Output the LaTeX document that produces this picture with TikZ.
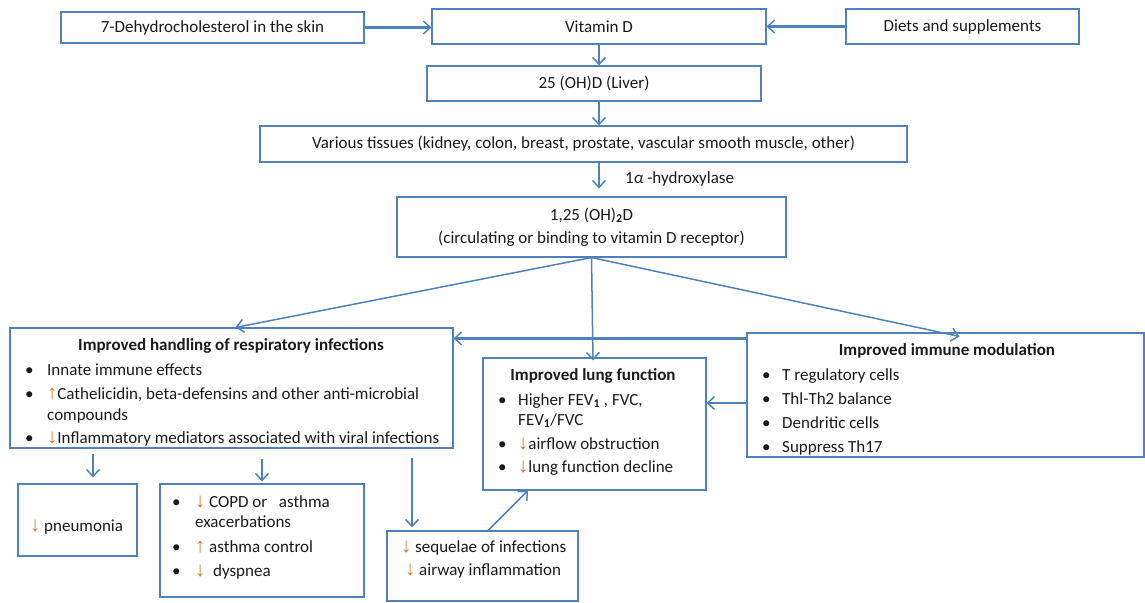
\documentclass[tikz,border=0pt]{standalone}
\usepackage{fontspec}
\setmainfont{Carlito}
\newfontfamily\arrfont[Scale=1.2]{Liberation Sans}
\usetikzlibrary{arrows.meta}
\definecolor{bl}{HTML}{4F81BD}
\definecolor{orr}{HTML}{D9752B}
\definecolor{txt}{HTML}{1A1A1A}
\newcommand\dnar{{\arrfont\color{orr}↓}}
\newcommand\upar{{\arrfont\color{orr}↑}}
\newcommand\bul[1]{\makebox[#1pt][l]{•}}
\begin{document}
\begin{tikzpicture}[x=1pt,y=-1pt,
  font=\fontsize{17}{20}\selectfont, text=txt,
  box/.style={draw=bl, line width=1.1pt, inner sep=0pt},
  lbl/.style={inner sep=0pt, anchor=mid west, yshift=-3pt},
  ctr/.style={inner sep=0pt, anchor=mid, yshift=-3pt},
  ttl/.style={ctr, font=\fontsize{17}{20}\selectfont\bfseries},
  arr/.style={draw=bl, line width=1.5pt, -{Straight Barb[length=7pt,width=13pt,line width=1.5pt]}},
  arrt/.style={arr, line width=2.1pt}]
\useasboundingbox (0,0) rectangle (1145,602);
% boxes
\node[box, minimum width=303pt, minimum height=31pt] (skin) at (212.5,27.5) {7-Dehydrocholesterol in the skin};
\node[box, minimum width=334pt, minimum height=35pt] (vitd) at (599,26.5) {Vitamin D};
\node[box, minimum width=233pt, minimum height=35pt] (diet) at (962.5,26.5) {Diets and supplements};
\node[box, minimum width=334pt, minimum height=35pt] (liver) at (594,83.5) {25 (OH)D (Liver)};
\node[box, minimum width=647pt, minimum height=36pt] (tiss) at (583.5,144) {Various tissues (kidney, colon, breast, prostate, vascular smooth muscle, other)};
\node[box, minimum width=389pt, minimum height=60pt] (ohd) at (591.5,227) {};
\node[box, minimum width=443pt, minimum height=120pt] (resp) at (231.5,388) {};
\node[box, minimum width=223pt, minimum height=132pt] (lung) at (594.5,424) {};
\node[box, minimum width=397pt, minimum height=124pt] (imm) at (945.5,395) {};
\node[box, minimum width=119pt, minimum height=72pt] (pneu) at (77.5,520) {};
\node[box, minimum width=204pt, minimum height=113pt] (copd) at (262,540.5) {};
\node[box, minimum width=191pt, minimum height=70pt] (seq) at (482.5,566) {};
% texts
\node[ctr] (ohd1) at (591.5,215) {1,25 (OH)\textsubscript{\textbf{2}}D};
\node[ctr] (ohd2) at (591.5,238) {(circulating or binding to vitamin D receptor)};
\node[lbl] (hyd) at (625,178) {1\textit{α} -hydroxylase};
\node[ttl] (respt) at (231,345) {Improved handling of respiratory infections};
\node[lbl] (r1) at (25,370) {\bul{22}Innate immune effects};
\node[lbl] (r2) at (25,394) {\bul{22}\upar Cathelicidin, beta-defensins and other anti-microbial};
\node[lbl] (r3) at (47,415) {compounds};
\node[lbl] (r4) at (25,438) {\bul{22}\dnar Inflammatory mediators associated with viral infections};
\node[ttl] (lungt) at (593,375) {Improved lung function};
\node[lbl] (l1) at (498,400) {\bul{20}Higher FEV\textsubscript{\textbf{1}} , FVC,};
\node[lbl] (l2) at (518,420) {FEV\textsubscript{\textbf{1}}/FVC};
\node[lbl] (l3) at (498,444) {\bul{20}\dnar airflow obstruction};
\node[lbl] (l4) at (498,467) {\bul{20}\dnar lung function decline};
\node[ttl] (immt) at (947,350) {Improved immune modulation};
\node[lbl] (i1) at (762,375) {\bul{20}T regulatory cells};
\node[lbl] (i2) at (762,399) {\bul{20}Thl-Th2 balance};
\node[lbl] (i3) at (762,423) {\bul{20}Dendritic cells};
\node[lbl] (i4) at (762,447) {\bul{20}Suppress Th17};
\node[lbl] (p1) at (30,526) {\dnar\ pneumonia};
\node[lbl] (c1) at (172,502) {\bul{23}\dnar\ COPD or\ \ \ asthma};
\node[lbl] (c2) at (195,522) {exacerbations};
\node[lbl] (c3) at (172,547) {\bul{23}\upar\ asthma control};
\node[lbl] (c4) at (172,571) {\bul{23}\dnar\ \ dyspnea};
\node[lbl] (s1) at (401,547) {\dnar\ sequelae of infections};
\node[lbl] (s2) at (405,570) {\dnar\ airway inflammation};
% connectors
\draw[arrt] (skin.east) -- (skin.east -| vitd.west);
\draw[arrt] (diet.west) -- (vitd.east);
\draw[arr] (vitd.south) -- (vitd.south |- liver.north);
\draw[arr] (vitd.south |- liver.south) -- (vitd.south |- tiss.north);
\draw[arr, shorten >=8pt] (vitd.south |- tiss.south) -- (vitd.south |- ohd.north);
\draw[arr] (ohd.south) -- ([xshift=4pt]resp.north);
\draw[arr] (ohd.south) -- ([xshift=14pt,yshift=-4pt]imm.north);
\draw[arr] (ohd.south) -- ([shift={(1.5pt,-3pt)}]ohd.south |- lung.north);
\draw[arrt] ([yshift=-6pt]imm.north west) -- ([yshift=-6pt]imm.north west -| resp.east);
\draw[arrt] ([yshift=-8pt]imm.west) -- ([yshift=-8pt]imm.west -| lung.east);
\draw[arr, shorten <=5pt, shorten >=6pt] ([xshift=15.5pt]pneu.north |- resp.south) -- ([xshift=15.5pt]pneu.north);
\draw[arr, shorten <=10pt, shorten >=2pt] (copd.north |- resp.south) -- (copd.north);
\draw[arrt, shorten <=9pt, shorten >=3pt] ([xshift=-70.5pt]seq.north |- resp.south) -- ([xshift=-70.5pt]seq.north);
\draw[arr] ([xshift=5.5pt]seq.north) -- ([xshift=-66.5pt]lung.south);
\end{tikzpicture}
\end{document}
